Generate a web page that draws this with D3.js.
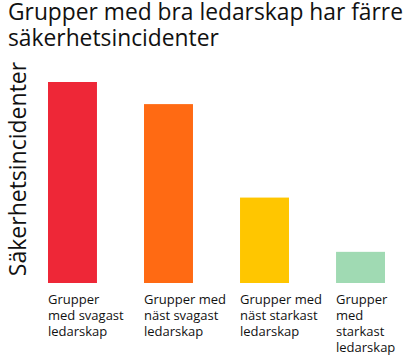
<!DOCTYPE html>
<html><head><meta charset="utf-8">
<script src="https://cdn.jsdelivr.net/npm/d3@7"></script>
<style>body{margin:0;background:#fff}svg{display:block}</style>
</head><body>
<script>
const titleLines = ["Grupper med bra ledarskap har färre", "säkerhetsincidenter"];
const yLabel = "Säkerhetsincidenter";
const categories = [
  ["Grupper", "med svagast", "ledarskap"],
  ["Grupper med", "näst svagast", "ledarskap"],
  ["Grupper med", "näst starkast", "ledarskap"],
  ["Grupper", "med", "starkast", "ledarskap"]
];
const values = [100, 89, 42.5, 15.5];
const colors = ["#EE2737", "#FF6A13", "#FFC600", "#A0DAB3"];

const W = 412, H = 358;
const svg = d3.select("body").append("svg").attr("width", W).attr("height", H);
const font = "'Open Sans', sans-serif";

svg.append("g").selectAll("text").data(titleLines).join("text")
  .attr("x", 8).attr("y", (d, i) => 20 + i * 26)
  .attr("font-family", font).attr("font-size", 22.8).attr("fill", "#111")
  .text(d => d);

svg.append("text")
  .attr("transform", "translate(26,169) rotate(-90)")
  .attr("text-anchor", "middle")
  .attr("font-family", font).attr("font-size", 23).attr("fill", "#111")
  .text(yLabel);

const idx = d3.range(values.length);
const x = d3.scaleBand().domain(idx).range([48, 385]).paddingInner(0.49).paddingOuter(0);
const y = d3.scaleLinear().domain([0, 100]).range([283, 82]);

svg.append("g").selectAll("rect").data(idx).join("rect")
  .attr("x", i => x(i)).attr("width", x.bandwidth())
  .attr("y", i => y(values[i])).attr("height", i => y(0) - y(values[i]))
  .attr("fill", i => colors[i]);

const lab = svg.append("g").selectAll("text").data(idx).join("text")
  .attr("font-family", font).attr("font-size", 13).attr("fill", "#111");
lab.selectAll("tspan").data(i => categories[i].map(t => ({t, i}))).join("tspan")
  .attr("x", d => x(d.i)).attr("y", (d, k) => 304 + k * 16)
  .text(d => d.t);
</script>
</body></html>
